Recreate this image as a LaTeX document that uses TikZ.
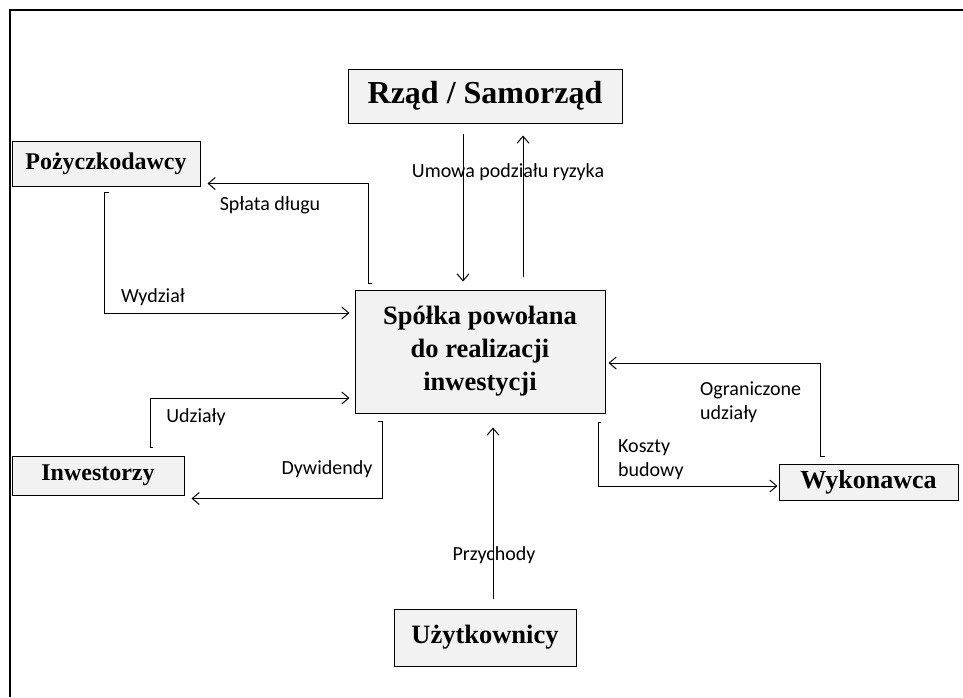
\documentclass[tikz,border=0pt]{standalone}
\usepackage{fontspec}
\setmainfont{Liberation Serif}
\newfontfamily\lblfont{Carlito}
\usetikzlibrary{arrows.meta}
\definecolor{boxgray}{HTML}{F2F2F2}

\begin{document}
\begin{tikzpicture}[x=1pt,y=-1pt,
    box/.style={draw,line width=1pt,fill=boxgray,inner sep=0pt},
    arr/.style={line width=1pt,-{Straight Barb[length=7pt,width=12pt]}},
    lbl/.style={font=\lblfont\fontsize{20}{24}\selectfont,inner sep=0pt}]
  \useasboundingbox (0,0) rectangle (963,697);
  \draw[line width=2.5pt] (10,697) -- (10,10) -- (963,10);
  % boxes
  \node[box,minimum width=274pt,minimum height=54pt,
    font=\bfseries\fontsize{32}{38}\selectfont] (rzad) at (485,96) {Rząd / Samorząd};
  \node[box,minimum width=188pt,minimum height=45pt,
    font=\bfseries\fontsize{24}{28}\selectfont] (pozycz) at (106,163.5) {Pożyczkodawcy};
  \node[box,minimum width=250pt,minimum height=123pt,align=center,
    font=\bfseries\fontsize{26.5}{33}\selectfont] (spolka) at (480,351.5)
    {Spółka powołana\\do realizacji\\inwestycji};
  \node[box,minimum width=172pt,minimum height=39pt,
    font=\bfseries\fontsize{24}{28}\selectfont] (inwest) at (98,475.5) {Inwestorzy};
  \node[box,minimum width=179pt,minimum height=36pt,
    font=\bfseries\fontsize{26}{30}\selectfont] (wykon) at (868.5,482) {Wykonawca};
  \node[box,minimum width=182pt,minimum height=57pt,
    font=\bfseries\fontsize{26.5}{30}\selectfont] (uzytk) at (485,637.5) {Użytkownicy};
  % connectors
  \draw[arr] ([shift={(-22,10)}]rzad.south) -- ([shift={(-17,-8)}]spolka.north);
  \draw[arr] ([shift={(43,-13)}]spolka.north) -- ([shift={(38,12)}]rzad.south);
  \draw[arr] ([shift={(17,-6)}]spolka.north west) -- ++(-3,0) |- ([shift={(7,-3)}]pozycz.south east);
  \draw[arr] ([shift={(3,6)}]pozycz.south) -- ++(-5,0) |- ([shift={(-5,-38.5)}]spolka.west);
  \draw[arr] ([shift={(55,-8)}]inwest.north) -- ++(-3,0) |- ([shift={(-5,46.5)}]spolka.west);
  \draw[arr] ([shift={(23,8)}]spolka.south west) -- ++(5,0) |- ([shift={(7,3)}]inwest.south east);
  \draw[arr] ([shift={(-43.5,-7)}]wykon.north) -- ++(-5,0) |- ([shift={(3,11.5)}]spolka.east);
  \draw[arr] ([shift={(-5,9)}]spolka.south east) -- ++(-2,0) |- ([shift={(-1,4)}]wykon.west);
  \draw[arr] ([shift={(8,-10)}]uzytk.north) -- ([shift={(13,14)}]spolka.south);
  % labels
  \node[lbl] (umowa) at (508,172) {Umowa podziału ryzyka};
  \node[lbl] (splata) at (270,205) {Spłata długu};
  \node[lbl] (wydzial) at (153,297) {Wydział};
  \node[lbl] (udzialy) at (196,417) {Udziały};
  \node[lbl] (dywid) at (327,469) {Dywidendy};
  \node[lbl,align=left,anchor=west] (ogran) at (700,402) {Ograniczone\\udziały};
  \node[lbl,align=left,anchor=west] (koszty) at (618,460) {Koszty\\budowy};
  \node[lbl] (przych) at (494,555) {Przychody};
\end{tikzpicture}
\end{document}
